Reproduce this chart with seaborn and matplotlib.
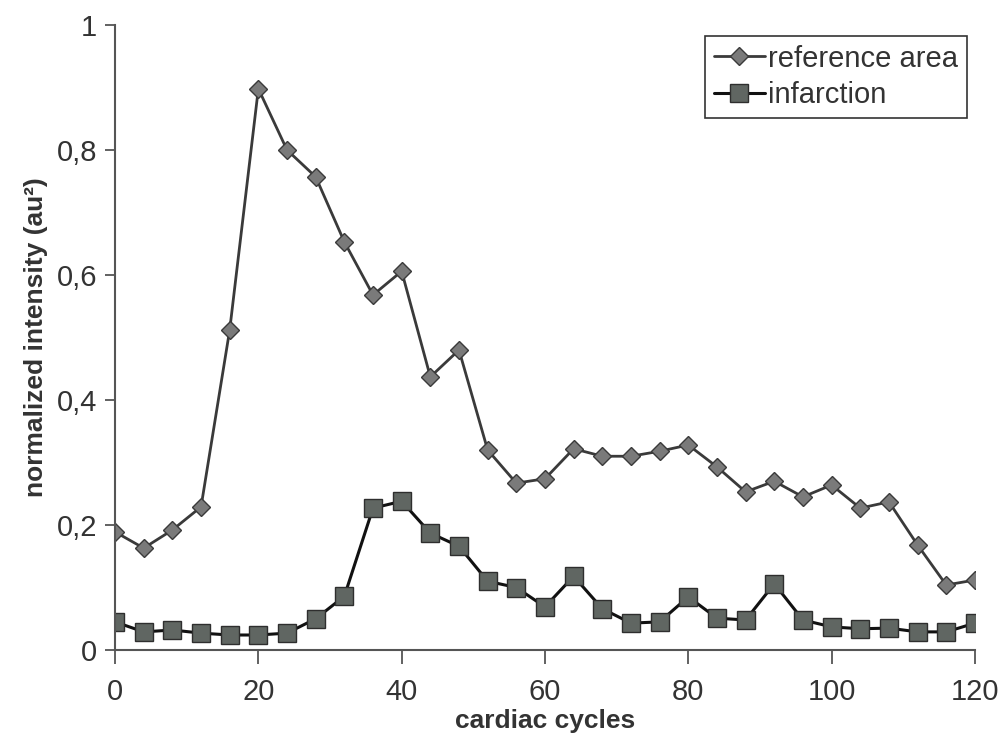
import matplotlib
matplotlib.use("Agg")
import matplotlib.pyplot as plt
import seaborn as sns
import pandas as pd

cycles = list(range(0, 121, 4))
reference_area = [0.189, 0.163, 0.192, 0.229, 0.512, 0.898, 0.800, 0.757, 0.653, 0.568,
                  0.606, 0.437, 0.480, 0.320, 0.267, 0.274, 0.322, 0.310, 0.310, 0.318,
                  0.328, 0.293, 0.253, 0.270, 0.245, 0.264, 0.227, 0.237, 0.168, 0.104,
                  0.112]
infarction = [0.045, 0.029, 0.032, 0.027, 0.024, 0.024, 0.027, 0.050, 0.086, 0.227,
              0.238, 0.187, 0.166, 0.110, 0.100, 0.069, 0.118, 0.066, 0.043, 0.045,
              0.085, 0.051, 0.048, 0.106, 0.048, 0.037, 0.034, 0.035, 0.029, 0.029,
              0.043]
x_ticks = [0, 20, 40, 60, 80, 100, 120]
y_ticks = [0, 0.2, 0.4, 0.6, 0.8, 1.0]
y_tick_labels = ["0", "0,2", "0,4", "0,6", "0,8", "1"]

sns.set_theme(style="white")
plt.rcParams["font.family"] = ["Liberation Sans", "DejaVu Sans"]

df_ref = pd.DataFrame({"cycle": cycles, "value": reference_area})
df_inf = pd.DataFrame({"cycle": cycles, "value": infarction})

fig = plt.figure(figsize=(10.03, 7.41), dpi=100)
ax = fig.add_axes([0.1147, 0.1228, 0.8573, 0.8435])

sns.lineplot(data=df_ref, x="cycle", y="value", ax=ax, color="#3a3a3a", linewidth=2.0,
             marker="D", markersize=9.5, markerfacecolor="#7a7a7a", markeredgecolor="#3a3a3a",
             markeredgewidth=1.0, label="reference area")
sns.lineplot(data=df_inf, x="cycle", y="value", ax=ax, color="#111111", linewidth=2.2,
             marker="s", markersize=13, markerfacecolor="#606662", markeredgecolor="#2e2e2e",
             markeredgewidth=1.0, label="infarction")

ax.set_xlim(0, 120)
ax.set_ylim(0, 1)
ax.margins(0)
ax.set_xticks(x_ticks)
ax.set_xticklabels([str(t) for t in x_ticks])
ax.set_yticks(y_ticks)
ax.set_yticklabels(y_tick_labels)

for side in ("top", "right"):
    ax.spines[side].set_visible(False)
for side in ("left", "bottom"):
    ax.spines[side].set_color("#555555")
    ax.spines[side].set_linewidth(1.5)

ax.tick_params(axis="both", which="both", direction="out", width=1.3,
               color="#555555", labelsize=21, labelcolor="#333333", bottom=True, left=True)
ax.tick_params(axis="x", length=10, pad=10)
ax.tick_params(axis="y", length=7, pad=6)

ax.set_xlabel("cardiac cycles", fontsize=19, fontweight="bold", color="#333333", labelpad=2)
ax.set_ylabel("normalized intensity (au²)", fontsize=19, fontweight="bold", color="#333333",
              labelpad=6)

leg = ax.legend(loc="upper right", bbox_to_anchor=(0.997, 0.992), fontsize=21, frameon=True,
                fancybox=False, edgecolor="#333333", handlelength=1.75, handletextpad=0.1,
                borderpad=0.3, labelspacing=0.3, borderaxespad=0.2, framealpha=1)
leg.get_frame().set_linewidth(1.2)
for t in leg.get_texts():
    t.set_color("#333333")

fig.savefig("out.png", dpi=100, facecolor="white")
